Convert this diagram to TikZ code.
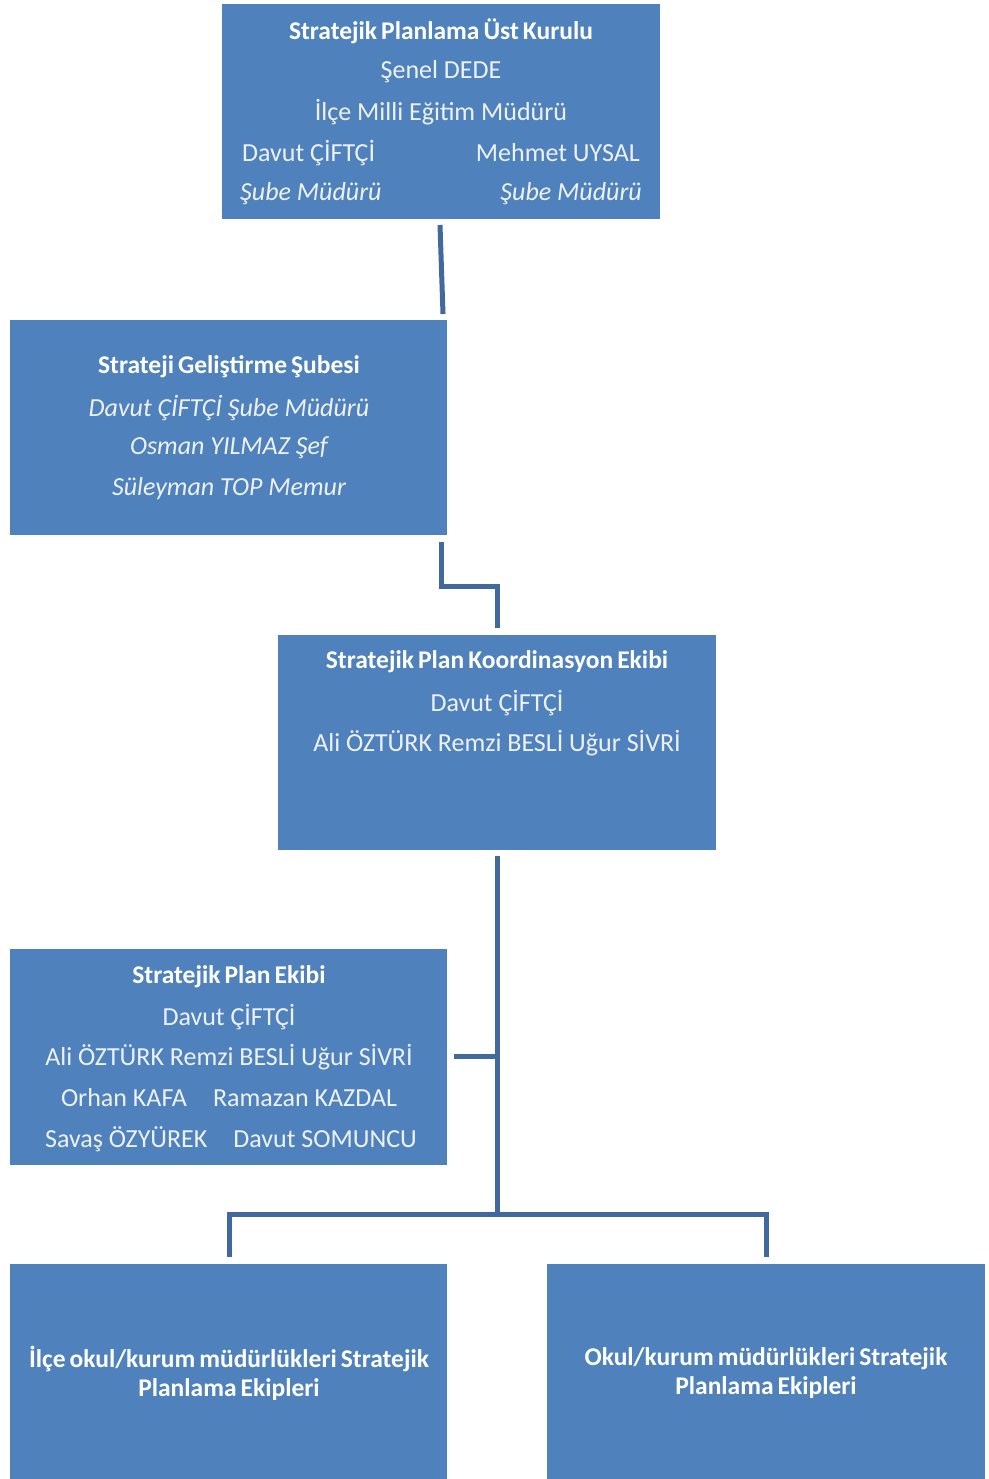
\documentclass[tikz,border=0pt]{standalone}
\usepackage{fontspec}
\setmainfont{Carlito}
\newfontfamily\ttlfont[WordSpace=0.7]{Carlito}
\definecolor{boxblue}{HTML}{4F81BD}
\definecolor{lineblue}{HTML}{41699E}
\definecolor{txt}{HTML}{EEF2F8}
\begin{document}
\begin{tikzpicture}[x=1pt,y=-1pt,
  box/.style={fill=boxblue,draw=none,inner sep=0pt},
  ttl/.style={text=white,font=\ttlfont\fontsize{25.5}{30}\selectfont\bfseries,inner sep=0pt,align=center},
  reg/.style={text=txt,font=\fontsize{26}{30}\selectfont,inner sep=0pt},
  itl/.style={text=txt,font=\fontsize{26}{30}\selectfont\itshape,inner sep=0pt},
  conn/.style={draw=lineblue,line width=5pt}]
\useasboundingbox (0,0) rectangle (988,1479);
% boxes
\path[box] (222,4) rectangle (660,219) node[midway] (b1) {};
\path[box] (10,320) rectangle (447,535) node[midway] (b2) {};
\path[box] (278,635) rectangle (716,850) node[midway] (b3) {};
\path[box] (10,949) rectangle (447,1165) node[midway] (b4) {};
\path[box] (10,1264) rectangle (447,1479) node[midway] (b5) {};
\path[box] (547,1264) rectangle (985,1479) node[midway] (b6) {};
% box 1 text
\node[ttl] (t1a) at (441,31) {Stratejik Planlama Üst Kurulu};
\node[reg] (t1b) at (441,72) {Şenel DEDE};
\node[reg] (t1c) at (441,112) {İlçe Milli Eğitim Müdürü};
\node[reg,anchor=west] (t1d) at (242,153) {Davut ÇİFTÇİ};
\node[reg,anchor=east] (t1e) at (640,153) {Mehmet UYSAL};
\node[itl,anchor=west] (t1f) at (240,194) {Şube Müdürü};
\node[itl,anchor=east] (t1g) at (642,194) {Şube Müdürü};
% box 2 text
\node[ttl] (t2a) at (229,367) {Strateji Geliştirme Şubesi};
\node[itl] (t2b) at (229,408) {Davut ÇİFTÇİ Şube Müdürü};
\node[itl] (t2c) at (229,448) {Osman YILMAZ Şef};
\node[itl] (t2d) at (229,489) {Süleyman TOP Memur};
% box 3 text
\node[ttl] (t3a) at (497,662) {Stratejik Plan Koordinasyon Ekibi};
\node[reg] (t3b) at (497,703) {Davut ÇİFTÇİ};
\node[reg] (t3c) at (497,743) {Ali ÖZTÜRK Remzi BESLİ Uğur SİVRİ};
% box 4 text
\node[ttl] (t4a) at (229,977) {Stratejik Plan Ekibi};
\node[reg] (t4b) at (229,1017) {Davut ÇİFTÇİ};
\node[reg] (t4c) at (229,1057) {Ali ÖZTÜRK Remzi BESLİ Uğur SİVRİ};
\node[reg] (t4d) at (229,1098) {Orhan KAFA\hspace{26pt}Ramazan KAZDAL};
\node[reg] (t4e) at (231,1139) {Savaş ÖZYÜREK\hspace{26pt}Davut SOMUNCU};
% box 5, 6 text
\node[ttl] (t5) at (229,1373) {İlçe okul/kurum müdürlükleri Stratejik\\[-1pt] Planlama Ekipleri};
\node[ttl] (t6) at (766,1373) {Okul/kurum müdürlükleri Stratejik\\[-1pt] Planlama Ekipleri};
% connectors
\coordinate (c1s) at (440,225);
\coordinate (c1e) at (443,314);
\draw[conn] (c1s) -- (c1e);
\coordinate (c2s) at (441,542);
\coordinate (c2e) at (497,628);
\draw[conn] (c2s) |- (469,586) -| (c2e);
\coordinate (c3s) at (497,856);
\coordinate (c3m) at (497,1214);
\draw[conn] (c3s) -- (c3m);
\coordinate (c4) at (454,1056);
\draw[conn] (c4) -- (497,1056);
\coordinate (c5) at (229,1257);
\coordinate (c6) at (766,1257);
\draw[conn] (c5) |- (c3m) -| (c6);
\end{tikzpicture}
\end{document}
